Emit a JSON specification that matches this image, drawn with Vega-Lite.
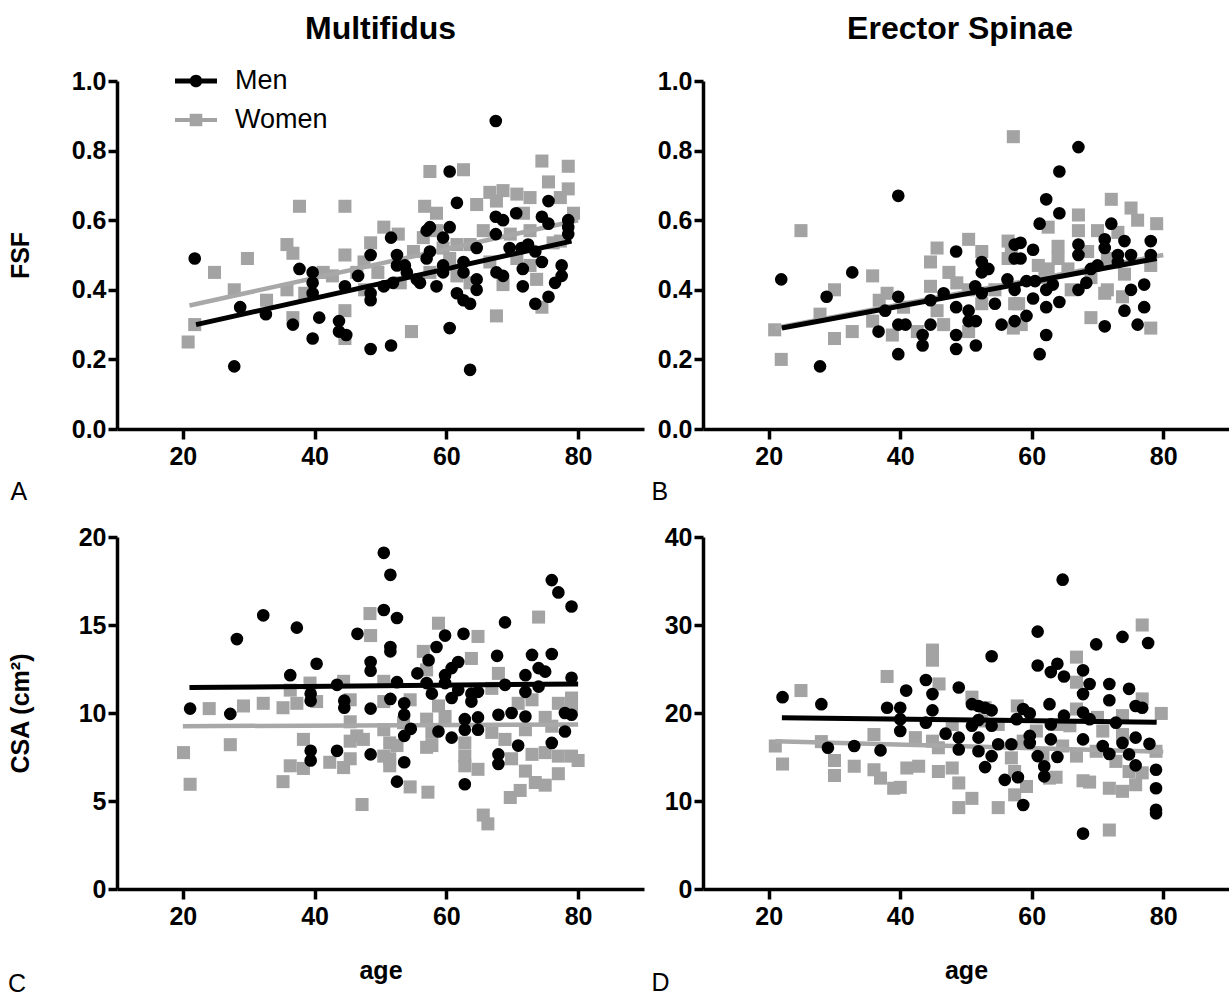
{
"$schema": "https://vega.github.io/schema/vega-lite/v6.json",
"background": "white",
"padding": {"left": 8, "top": 13, "right": 0, "bottom": 0},
"config": {
 "view": {"stroke": null},
 "axis": {"domainColor": "black", "domainWidth": 3.5, "tickColor": "black", "tickWidth": 3.5, "tickSize": 10, "grid": false,
  "labelFont": "Liberation Sans", "labelFontSize": 25, "labelFontWeight": "bold", "labelColor": "black", "labelPadding": 5, "labelOverlap": false, "labelBound": false, "labelFlush": false,
  "titleFont": "Liberation Sans", "titleFontSize": 25, "titleFontWeight": "bold", "titleColor": "black"},
 "axisY": {"labelPadding": 2, "tickSize": 9},
 "title": {"font": "Liberation Sans", "fontSize": 32, "fontWeight": "bold", "color": "black", "anchor": "middle", "frame": "group"}
},
"datasets": {
 "A_men": [{"age":21.8,"fsf":0.49},{"age":27.8,"fsf":0.18},{"age":28.7,"fsf":0.35},{"age":32.6,"fsf":0.33},{"age":36.7,"fsf":0.30},{"age":37.7,"fsf":0.46},{"age":39.7,"fsf":0.45},{"age":39.7,"fsf":0.42},{"age":39.7,"fsf":0.39},{"age":39.7,"fsf":0.26},{"age":40.7,"fsf":0.32},{"age":43.7,"fsf":0.31},{"age":43.7,"fsf":0.28},{"age":44.8,"fsf":0.27},{"age":44.6,"fsf":0.41},{"age":46.6,"fsf":0.44},{"age":48.5,"fsf":0.50},{"age":48.5,"fsf":0.39},{"age":48.5,"fsf":0.37},{"age":48.5,"fsf":0.23},{"age":51.6,"fsf":0.24},{"age":51.6,"fsf":0.55},{"age":50.5,"fsf":0.41},{"age":51.9,"fsf":0.42},{"age":52.5,"fsf":0.50},{"age":52.5,"fsf":0.47},{"age":53.7,"fsf":0.47},{"age":54,"fsf":0.45},{"age":55.5,"fsf":0.43},{"age":57,"fsf":0.57},{"age":57,"fsf":0.49},{"age":67.5,"fsf":0.885},{"age":60.5,"fsf":0.74},{"age":61.6,"fsf":0.65},{"age":57.5,"fsf":0.58},{"age":60.5,"fsf":0.58},{"age":59.5,"fsf":0.55},{"age":57.5,"fsf":0.51},{"age":59.5,"fsf":0.47},{"age":59.5,"fsf":0.45},{"age":58.5,"fsf":0.41},{"age":56,"fsf":0.42},{"age":61.6,"fsf":0.39},{"age":62.6,"fsf":0.37},{"age":63.6,"fsf":0.36},{"age":64.6,"fsf":0.43},{"age":64.6,"fsf":0.40},{"age":62.6,"fsf":0.48},{"age":62.6,"fsf":0.45},{"age":64.6,"fsf":0.52},{"age":60.5,"fsf":0.29},{"age":63.6,"fsf":0.17},{"age":67.5,"fsf":0.61},{"age":67.5,"fsf":0.56},{"age":68.6,"fsf":0.60},{"age":70.6,"fsf":0.62},{"age":67.6,"fsf":0.45},{"age":68.6,"fsf":0.44},{"age":69.6,"fsf":0.52},{"age":71.4,"fsf":0.52},{"age":72.4,"fsf":0.53},{"age":73.5,"fsf":0.51},{"age":74.5,"fsf":0.48},{"age":71.6,"fsf":0.46},{"age":71.6,"fsf":0.41},{"age":73.5,"fsf":0.36},{"age":75.5,"fsf":0.38},{"age":76.5,"fsf":0.42},{"age":77.5,"fsf":0.47},{"age":77.5,"fsf":0.44},{"age":74.5,"fsf":0.61},{"age":75.5,"fsf":0.59},{"age":75.5,"fsf":0.655},{"age":78.5,"fsf":0.60},{"age":78.5,"fsf":0.58},{"age":78.5,"fsf":0.56}],
 "A_women": [{"age":20.8,"fsf":0.25},{"age":21.8,"fsf":0.30},{"age":24.8,"fsf":0.45},{"age":27.8,"fsf":0.40},{"age":29.8,"fsf":0.49},{"age":32.7,"fsf":0.37},{"age":35.8,"fsf":0.53},{"age":36.7,"fsf":0.505},{"age":35.8,"fsf":0.40},{"age":37.7,"fsf":0.64},{"age":36.7,"fsf":0.32},{"age":38.5,"fsf":0.39},{"age":41.3,"fsf":0.45},{"age":42.7,"fsf":0.44},{"age":44.6,"fsf":0.64},{"age":44.6,"fsf":0.50},{"age":44.6,"fsf":0.34},{"age":44.6,"fsf":0.26},{"age":46.4,"fsf":0.45},{"age":47.5,"fsf":0.48},{"age":48.5,"fsf":0.535},{"age":47.6,"fsf":0.40},{"age":49.6,"fsf":0.45},{"age":50.5,"fsf":0.58},{"age":52.7,"fsf":0.56},{"age":54.7,"fsf":0.28},{"age":56.7,"fsf":0.64},{"age":57.5,"fsf":0.74},{"age":53,"fsf":0.42},{"age":55,"fsf":0.51},{"age":62.6,"fsf":0.745},{"age":74.5,"fsf":0.77},{"age":78.5,"fsf":0.755},{"age":75.5,"fsf":0.71},{"age":78.5,"fsf":0.69},{"age":79.3,"fsf":0.62},{"age":67.6,"fsf":0.325},{"age":74.5,"fsf":0.35},{"age":73.7,"fsf":0.43},{"age":58.5,"fsf":0.62},{"age":64.6,"fsf":0.645},{"age":66.6,"fsf":0.68},{"age":68.6,"fsf":0.685},{"age":70.7,"fsf":0.675},{"age":65.6,"fsf":0.57},{"age":63.6,"fsf":0.53},{"age":61.6,"fsf":0.53},{"age":59.5,"fsf":0.52},{"age":56.5,"fsf":0.55},{"age":57.5,"fsf":0.45},{"age":61.6,"fsf":0.44},{"age":63.6,"fsf":0.42},{"age":66.6,"fsf":0.48},{"age":70.7,"fsf":0.49},{"age":72.7,"fsf":0.57},{"age":71.7,"fsf":0.62},{"age":76.2,"fsf":0.535},{"age":77.3,"fsf":0.54},{"age":69.7,"fsf":0.56},{"age":67.6,"fsf":0.655},{"age":72.7,"fsf":0.665},{"age":77.3,"fsf":0.665},{"age":58.5,"fsf":0.57},{"age":60.5,"fsf":0.49},{"age":68.6,"fsf":0.415},{"age":72.7,"fsf":0.47}],
 "A_fit": [{"sex":"Men","age":22,"fsf":0.30},{"sex":"Men","age":79,"fsf":0.54},{"sex":"Women","age":21,"fsf":0.355},{"sex":"Women","age":80,"fsf":0.60}],
 "B_men": [{"age":21.9,"fsf":0.43},{"age":27.8,"fsf":0.18},{"age":28.8,"fsf":0.38},{"age":32.7,"fsf":0.45},{"age":39.7,"fsf":0.67},{"age":39.7,"fsf":0.38},{"age":39.7,"fsf":0.30},{"age":39.7,"fsf":0.215},{"age":40.8,"fsf":0.30},{"age":37.7,"fsf":0.34},{"age":36.7,"fsf":0.28},{"age":43.4,"fsf":0.27},{"age":43.4,"fsf":0.24},{"age":44.6,"fsf":0.37},{"age":44.6,"fsf":0.30},{"age":46.6,"fsf":0.39},{"age":48.5,"fsf":0.51},{"age":48.5,"fsf":0.35},{"age":48.5,"fsf":0.27},{"age":48.5,"fsf":0.23},{"age":50.4,"fsf":0.34},{"age":50.4,"fsf":0.31},{"age":51.5,"fsf":0.31},{"age":51.5,"fsf":0.24},{"age":52.4,"fsf":0.48},{"age":52.4,"fsf":0.45},{"age":53.4,"fsf":0.46},{"age":51.4,"fsf":0.41},{"age":52.4,"fsf":0.39},{"age":54.4,"fsf":0.36},{"age":55.4,"fsf":0.30},{"age":56.3,"fsf":0.43},{"age":57.4,"fsf":0.53},{"age":57.4,"fsf":0.49},{"age":57.4,"fsf":0.31},{"age":57.4,"fsf":0.40},{"age":67.1,"fsf":0.81},{"age":64.2,"fsf":0.74},{"age":62.2,"fsf":0.66},{"age":64.2,"fsf":0.62},{"age":61.2,"fsf":0.59},{"age":58.3,"fsf":0.535},{"age":60.2,"fsf":0.515},{"age":58.3,"fsf":0.49},{"age":59.2,"fsf":0.425},{"age":60.5,"fsf":0.425},{"age":60.2,"fsf":0.375},{"age":62.2,"fsf":0.40},{"age":63.2,"fsf":0.415},{"age":62.2,"fsf":0.35},{"age":64.2,"fsf":0.365},{"age":59.2,"fsf":0.325},{"age":62.2,"fsf":0.27},{"age":61.2,"fsf":0.215},{"age":67.1,"fsf":0.53},{"age":67.1,"fsf":0.50},{"age":67.1,"fsf":0.40},{"age":68.3,"fsf":0.42},{"age":69,"fsf":0.46},{"age":70,"fsf":0.47},{"age":71.1,"fsf":0.545},{"age":71.1,"fsf":0.52},{"age":71.1,"fsf":0.295},{"age":72.1,"fsf":0.59},{"age":73.1,"fsf":0.50},{"age":73.1,"fsf":0.48},{"age":74.1,"fsf":0.54},{"age":75.1,"fsf":0.50},{"age":75.1,"fsf":0.40},{"age":74.1,"fsf":0.34},{"age":76.1,"fsf":0.30},{"age":77.1,"fsf":0.415},{"age":77.1,"fsf":0.35},{"age":78.1,"fsf":0.54},{"age":78.1,"fsf":0.50}],
 "B_women": [{"age":24.9,"fsf":0.57},{"age":20.9,"fsf":0.285},{"age":21.9,"fsf":0.20},{"age":30,"fsf":0.40},{"age":27.8,"fsf":0.33},{"age":30,"fsf":0.26},{"age":32.7,"fsf":0.28},{"age":35.8,"fsf":0.44},{"age":35.8,"fsf":0.31},{"age":36.8,"fsf":0.37},{"age":38.8,"fsf":0.27},{"age":40.5,"fsf":0.35},{"age":38,"fsf":0.39},{"age":42.6,"fsf":0.28},{"age":44.6,"fsf":0.48},{"age":44.6,"fsf":0.41},{"age":45.6,"fsf":0.52},{"age":45.6,"fsf":0.34},{"age":47.4,"fsf":0.45},{"age":48.6,"fsf":0.42},{"age":46.6,"fsf":0.30},{"age":50.4,"fsf":0.545},{"age":50.4,"fsf":0.28},{"age":52.4,"fsf":0.51},{"age":50.4,"fsf":0.40},{"age":52.4,"fsf":0.36},{"age":54.4,"fsf":0.40},{"age":56.4,"fsf":0.54},{"age":56.4,"fsf":0.49},{"age":57.2,"fsf":0.84},{"age":57.4,"fsf":0.36},{"age":57.2,"fsf":0.29},{"age":62.5,"fsf":0.58},{"age":72.1,"fsf":0.66},{"age":75.1,"fsf":0.635},{"age":76.1,"fsf":0.60},{"age":79,"fsf":0.59},{"age":67.1,"fsf":0.615},{"age":67.1,"fsf":0.57},{"age":70,"fsf":0.57},{"age":73.1,"fsf":0.565},{"age":64,"fsf":0.525},{"age":64,"fsf":0.49},{"age":62.5,"fsf":0.46},{"age":65.5,"fsf":0.46},{"age":68.5,"fsf":0.51},{"age":71.5,"fsf":0.49},{"age":78.1,"fsf":0.47},{"age":56.9,"fsf":0.51},{"age":61,"fsf":0.47},{"age":66,"fsf":0.40},{"age":71.5,"fsf":0.40},{"age":73.8,"fsf":0.38},{"age":74.1,"fsf":0.445},{"age":71.1,"fsf":0.39},{"age":58,"fsf":0.36},{"age":58.4,"fsf":0.30},{"age":62,"fsf":0.435},{"age":69,"fsf":0.32},{"age":78.1,"fsf":0.29},{"age":69,"fsf":0.435}],
 "B_fit": [{"sex":"Men","age":22,"fsf":0.29},{"sex":"Men","age":79,"fsf":0.49},{"sex":"Women","age":21,"fsf":0.29},{"sex":"Women","age":80,"fsf":0.50}],
 "C_men": [{"age":21.1,"csa":10.25},{"age":27.2,"csa":9.95},{"age":28.2,"csa":14.2},{"age":32.2,"csa":15.55},{"age":37.3,"csa":14.85},{"age":36.3,"csa":12.15},{"age":40.3,"csa":12.8},{"age":39.4,"csa":11.1},{"age":39.4,"csa":10.7},{"age":39.4,"csa":7.85},{"age":39.4,"csa":7.3},{"age":43.4,"csa":11.6},{"age":43.4,"csa":7.85},{"age":44.5,"csa":10.7},{"age":44.5,"csa":10.3},{"age":46.5,"csa":14.5},{"age":48.5,"csa":12.9},{"age":48.5,"csa":12.4},{"age":48.5,"csa":10.25},{"age":48.5,"csa":7.65},{"age":50.5,"csa":19.1},{"age":51.5,"csa":17.85},{"age":50.5,"csa":15.85},{"age":52.5,"csa":15.4},{"age":51.5,"csa":13.75},{"age":51.5,"csa":13.5},{"age":52.5,"csa":11.75},{"age":51.5,"csa":10.8},{"age":53.6,"csa":10.55},{"age":53.6,"csa":9.9},{"age":54.6,"csa":9.1},{"age":53.6,"csa":8.7},{"age":53.6,"csa":7.2},{"age":52.5,"csa":6.1},{"age":55.6,"csa":12.25},{"age":57,"csa":11.7},{"age":57.3,"csa":13.0},{"age":76,"csa":17.55},{"age":77,"csa":16.85},{"age":79,"csa":16.05},{"age":68.9,"csa":15.15},{"age":62.6,"csa":14.5},{"age":59.8,"csa":14.4},{"age":58.5,"csa":13.75},{"age":61.8,"csa":12.9},{"age":60.8,"csa":12.55},{"age":59.8,"csa":12.15},{"age":59.8,"csa":11.7},{"age":57.8,"csa":11.1},{"age":60.8,"csa":10.85},{"age":61.8,"csa":11.3},{"age":63.8,"csa":11.1},{"age":64.8,"csa":11.2},{"age":63.8,"csa":10.65},{"age":64.8,"csa":9.75},{"age":62.8,"csa":9.65},{"age":62.8,"csa":9.05},{"age":64.8,"csa":9.05},{"age":58.8,"csa":8.95},{"age":60.8,"csa":8.6},{"age":62.8,"csa":5.95},{"age":67.7,"csa":13.25},{"age":68.9,"csa":11.6},{"age":67.9,"csa":9.9},{"age":69.9,"csa":10.0},{"age":72,"csa":9.8},{"age":67.9,"csa":7.65},{"age":67.9,"csa":7.1},{"age":70.9,"csa":8.15},{"age":72,"csa":12.15},{"age":72,"csa":11.2},{"age":73,"csa":13.3},{"age":74,"csa":12.55},{"age":75,"csa":12.35},{"age":74,"csa":11.5},{"age":76,"csa":13.35},{"age":76,"csa":8.3},{"age":78,"csa":10.0},{"age":79,"csa":9.9},{"age":78,"csa":8.95},{"age":79,"csa":12.0}],
 "C_women": [{"age":20.1,"csa":7.75},{"age":21.1,"csa":5.95},{"age":24,"csa":10.25},{"age":27.2,"csa":8.2},{"age":29.2,"csa":10.4},{"age":32.2,"csa":10.55},{"age":35.2,"csa":10.3},{"age":35.2,"csa":6.1},{"age":36.3,"csa":11.3},{"age":37.3,"csa":10.55},{"age":36.3,"csa":7.0},{"age":38.3,"csa":8.5},{"age":38.3,"csa":6.85},{"age":39.3,"csa":11.7},{"age":40.3,"csa":10.65},{"age":42.3,"csa":7.2},{"age":44.4,"csa":11.8},{"age":45.4,"csa":10.75},{"age":45.4,"csa":9.5},{"age":44.4,"csa":6.9},{"age":45.4,"csa":8.4},{"age":46.4,"csa":8.7},{"age":45.4,"csa":7.4},{"age":47.4,"csa":8.5},{"age":48.4,"csa":15.65},{"age":48.5,"csa":14.4},{"age":50.5,"csa":11.8},{"age":50.5,"csa":10.65},{"age":50.5,"csa":9.05},{"age":51.4,"csa":8.3},{"age":51.4,"csa":7.4},{"age":50.5,"csa":7.55},{"age":51.4,"csa":7.0},{"age":52.5,"csa":8.15},{"age":53.5,"csa":9.45},{"age":54.5,"csa":10.75},{"age":54.5,"csa":5.8},{"age":56.5,"csa":13.5},{"age":57,"csa":8.05},{"age":57,"csa":9.65},{"age":58.8,"csa":15.1},{"age":64.8,"csa":14.35},{"age":63.8,"csa":13.1},{"age":74,"csa":15.45},{"age":67.9,"csa":12.25},{"age":57,"csa":12.45},{"age":66.9,"csa":11.4},{"age":70.9,"csa":10.55},{"age":73,"csa":10.75},{"age":79,"csa":10.85},{"age":77,"csa":10.55},{"age":75,"csa":9.75},{"age":76,"csa":9.25},{"age":58.8,"csa":10.4},{"age":59.8,"csa":9.8},{"age":57.8,"csa":8.9},{"age":57.8,"csa":8.15},{"age":62.8,"csa":8.3},{"age":62.8,"csa":7.55},{"age":62.8,"csa":7.0},{"age":64.8,"csa":6.8},{"age":66.9,"csa":8.9},{"age":68.9,"csa":8.5},{"age":69.9,"csa":7.4},{"age":72,"csa":6.7},{"age":73.5,"csa":6.05},{"age":73,"csa":7.65},{"age":75,"csa":7.75},{"age":77,"csa":7.55},{"age":79,"csa":7.55},{"age":80,"csa":7.3},{"age":77,"csa":6.55},{"age":72,"csa":9.05},{"age":79,"csa":10.2},{"age":47.2,"csa":4.8},{"age":65.6,"csa":4.2},{"age":66.3,"csa":3.7},{"age":57.2,"csa":5.5},{"age":69.7,"csa":5.2},{"age":71.2,"csa":5.6},{"age":75,"csa":5.9}],
 "C_fit": [{"sex":"Men","age":21,"csa":11.45},{"sex":"Men","age":80,"csa":11.65},{"sex":"Women","age":20,"csa":9.25},{"sex":"Women","age":80,"csa":9.35}],
 "D_men": [{"age":22.1,"csa":21.8},{"age":28,"csa":21.0},{"age":29,"csa":16.05},{"age":33,"csa":16.25},{"age":37,"csa":15.75},{"age":38,"csa":20.6},{"age":40,"csa":20.6},{"age":40,"csa":19.3},{"age":40,"csa":17.95},{"age":40.9,"csa":22.55},{"age":43.9,"csa":23.75},{"age":44.9,"csa":22.15},{"age":44.9,"csa":20.3},{"age":43.9,"csa":18.9},{"age":46.9,"csa":17.65},{"age":48.9,"csa":22.9},{"age":48.9,"csa":17.2},{"age":48.9,"csa":15.85},{"age":50.9,"csa":21.0},{"age":51.9,"csa":20.8},{"age":52.9,"csa":20.6},{"age":53.9,"csa":20.3},{"age":53.9,"csa":26.45},{"age":51.9,"csa":19.2},{"age":50.9,"csa":18.55},{"age":53.9,"csa":18.55},{"age":51.9,"csa":17.2},{"age":51.9,"csa":15.65},{"age":53.9,"csa":15.1},{"age":52.9,"csa":13.85},{"age":54.9,"csa":16.45},{"age":55.9,"csa":12.4},{"age":56.9,"csa":16.45},{"age":57.7,"csa":19.3},{"age":64.7,"csa":35.15},{"age":60.9,"csa":29.25},{"age":60.9,"csa":25.4},{"age":63.9,"csa":25.6},{"age":62.9,"csa":24.65},{"age":64.9,"csa":24.15},{"age":69.8,"csa":27.8},{"age":73.8,"csa":28.65},{"age":77.7,"csa":27.95},{"age":67.8,"csa":24.85},{"age":68.8,"csa":23.3},{"age":67.8,"csa":22.15},{"age":71.8,"csa":23.3},{"age":71.8,"csa":21.45},{"age":74.8,"csa":22.75},{"age":75.8,"csa":20.8},{"age":76.8,"csa":20.6},{"age":72.8,"csa":18.9},{"age":75.8,"csa":17.2},{"age":77.9,"csa":16.5},{"age":73.8,"csa":16.6},{"age":70.8,"csa":16.25},{"age":71.8,"csa":15.35},{"age":74.8,"csa":15.3},{"age":75.8,"csa":14.05},{"age":78.9,"csa":13.55},{"age":78.9,"csa":11.45},{"age":78.9,"csa":9.0},{"age":78.9,"csa":8.6},{"age":67.8,"csa":6.3},{"age":58.7,"csa":20.45},{"age":59.7,"csa":19.95},{"age":62.7,"csa":21.0},{"age":62.9,"csa":18.7},{"age":64.9,"csa":19.7},{"age":67.8,"csa":20.05},{"age":68.8,"csa":19.3},{"age":67.8,"csa":17.0},{"age":62.9,"csa":17.0},{"age":59.7,"csa":17.4},{"age":59.7,"csa":16.6},{"age":60.9,"csa":15.1},{"age":63.9,"csa":15.0},{"age":61.9,"csa":13.95},{"age":61.9,"csa":12.8},{"age":57.9,"csa":12.7},{"age":58.7,"csa":9.55}],
 "D_women": [{"age":24.9,"csa":22.55},{"age":21,"csa":16.25},{"age":22.1,"csa":14.2},{"age":28,"csa":16.75},{"age":30,"csa":14.6},{"age":30,"csa":12.9},{"age":33,"csa":13.95},{"age":36,"csa":17.55},{"age":36,"csa":13.55},{"age":37,"csa":12.6},{"age":38,"csa":24.15},{"age":39,"csa":11.45},{"age":40,"csa":11.55},{"age":41,"csa":13.75},{"age":42.8,"csa":13.95},{"age":44.9,"csa":27.15},{"age":44.9,"csa":26.0},{"age":45.9,"csa":23.3},{"age":44.9,"csa":16.8},{"age":45.8,"csa":13.35},{"age":47.9,"csa":13.75},{"age":48.9,"csa":12.05},{"age":50.9,"csa":21.8},{"age":50.9,"csa":10.3},{"age":48.9,"csa":9.25},{"age":52.9,"csa":20.6},{"age":54.9,"csa":9.25},{"age":54.9,"csa":18.7},{"age":56.9,"csa":14.9},{"age":47.9,"csa":18.7},{"age":45.8,"csa":16.05},{"age":52.4,"csa":19.1},{"age":42.3,"csa":17.2},{"age":76.8,"csa":30.0},{"age":66.8,"csa":26.35},{"age":66.8,"csa":23.5},{"age":76.8,"csa":21.6},{"age":79.7,"csa":19.95},{"age":57.8,"csa":20.8},{"age":66.8,"csa":20.45},{"age":70,"csa":19.5},{"age":73.8,"csa":19.7},{"age":65.8,"csa":18.55},{"age":70.8,"csa":17.95},{"age":73.8,"csa":17.55},{"age":64.7,"csa":16.25},{"age":66.8,"csa":15.1},{"age":69.8,"csa":15.65},{"age":72.8,"csa":14.5},{"age":74.8,"csa":13.35},{"age":76.8,"csa":13.2},{"age":78.9,"csa":15.65},{"age":67.8,"csa":12.3},{"age":68.8,"csa":12.15},{"age":71.8,"csa":11.45},{"age":73.8,"csa":11.1},{"age":75.8,"csa":11.85},{"age":71.8,"csa":6.7},{"age":62.7,"csa":12.6},{"age":63.7,"csa":12.7},{"age":61.7,"csa":15.3},{"age":60.7,"csa":17.95},{"age":58.7,"csa":16.8},{"age":57.4,"csa":13.35},{"age":57.4,"csa":10.7},{"age":59.2,"csa":11.65},{"age":64,"csa":18.7}],
 "D_fit": [{"sex":"Men","age":22,"csa":19.45},{"sex":"Men","age":79,"csa":18.95},{"sex":"Women","age":21,"csa":16.8},{"sex":"Women","age":80,"csa":15.6}]
},
"vconcat": [
 {"hconcat": [
  {"width": 527, "height": 348,
   "title": {"text": "Multifidus", "offset": 23},
   "layer": [
    {"data": {"name": "A_women"}, "mark": {"type": "square", "size": 170, "opacity": 1},
     "encoding": {
      "x": {"field": "age", "type": "quantitative", "scale": {"domain": [10, 90]}, "axis": {"values": [20, 40, 60, 80], "title": "A", "titleX": -107, "titleY": 70, "titleAlign": "left", "titleBaseline": "alphabetic", "titleFontWeight": "normal"}},
      "y": {"field": "fsf", "type": "quantitative", "scale": {"domain": [0, 1]}, "axis": {"values": [0, 0.2, 0.4, 0.6, 0.8, 1.0], "format": ".1f", "title": "FSF", "titleX": -84}},
      "color": {"datum": "Women", "scale": {"domain": ["Men", "Women"], "range": ["#000000", "#a3a3a3"]},
       "legend": {"orient": "none", "legendX": 58, "legendY": -21, "title": null, "labelFont": "Liberation Sans", "labelFontSize": 27, "labelFontWeight": "normal", "labelColor": "black", "symbolSize": 1764, "symbolStrokeWidth": 0, "symbolOpacity": 1, "labelOffset": 18, "rowPadding": 5, "padding": 0,
        "encode": {"symbols": {"update": {"shape": {"signal": "datum.value === 'Men' ? 'M-1,-0.12L1,-0.12L1,0.12L-1,0.12ZM-0.3,0A0.3,0.3,0,1,1,0.3,0A0.3,0.3,0,1,1,-0.3,0Z' : 'M-1,-0.09L1,-0.09L1,0.09L-1,0.09ZM-0.3,-0.3L0.3,-0.3L0.3,0.3L-0.3,0.3Z'"}}}}}}
     }},
    {"data": {"name": "A_fit"}, "transform": [{"filter": "datum.sex === 'Women'"}], "mark": {"type": "line", "color": "#a8a8a8", "strokeWidth": 4.5},
     "encoding": {"x": {"field": "age", "type": "quantitative"}, "y": {"field": "fsf", "type": "quantitative"}}},
    {"data": {"name": "A_men"}, "mark": {"type": "circle", "size": 160, "opacity": 1},
     "encoding": {"x": {"field": "age", "type": "quantitative"}, "y": {"field": "fsf", "type": "quantitative"}, "color": {"datum": "Men"}}},
    {"data": {"name": "A_fit"}, "transform": [{"filter": "datum.sex === 'Men'"}], "mark": {"type": "line", "color": "#000000", "strokeWidth": 5},
     "encoding": {"x": {"field": "age", "type": "quantitative"}, "y": {"field": "fsf", "type": "quantitative"}}}
   ]},
  {"width": 526, "height": 348,
   "title": {"text": "Erector Spinae", "offset": 23, "dx": -6},
   "layer": [
    {"data": {"name": "B_women"}, "mark": {"type": "square", "size": 170, "opacity": 1, "color": "#a3a3a3"},
     "encoding": {
      "x": {"field": "age", "type": "quantitative", "scale": {"domain": [10, 90]}, "axis": {"values": [20, 40, 60, 80], "title": "B", "titleX": -52, "titleY": 70, "titleAlign": "left", "titleBaseline": "alphabetic", "titleFontWeight": "normal"}},
      "y": {"field": "fsf", "type": "quantitative", "scale": {"domain": [0, 1]}, "axis": {"values": [0, 0.2, 0.4, 0.6, 0.8, 1.0], "format": ".1f", "title": null}}
     }},
    {"data": {"name": "B_fit"}, "transform": [{"filter": "datum.sex === 'Women'"}], "mark": {"type": "line", "color": "#a8a8a8", "strokeWidth": 4.5},
     "encoding": {"x": {"field": "age", "type": "quantitative"}, "y": {"field": "fsf", "type": "quantitative"}}},
    {"data": {"name": "B_men"}, "mark": {"type": "circle", "size": 160, "opacity": 1, "color": "#000000"},
     "encoding": {"x": {"field": "age", "type": "quantitative"}, "y": {"field": "fsf", "type": "quantitative"}}},
    {"data": {"name": "B_fit"}, "transform": [{"filter": "datum.sex === 'Men'"}], "mark": {"type": "line", "color": "#000000", "strokeWidth": 5},
     "encoding": {"x": {"field": "age", "type": "quantitative"}, "y": {"field": "fsf", "type": "quantitative"}}}
   ]}
 ], "spacing": 7},
 {"hconcat": [
  {"width": 527, "height": 352,
   "title": {"text": "C", "orient": "bottom", "anchor": "start", "frame": "bounds", "fontSize": 25, "fontWeight": "normal", "offset": -11},
   "layer": [
    {"data": {"name": "C_women"}, "mark": {"type": "square", "size": 170, "opacity": 1, "color": "#a3a3a3"},
     "encoding": {
      "x": {"field": "age", "type": "quantitative", "scale": {"domain": [10, 90]}, "axis": {"values": [20, 40, 60, 80], "title": "age", "titleY": 89, "titleBaseline": "alphabetic"}},
      "y": {"field": "csa", "type": "quantitative", "scale": {"domain": [0, 20]}, "axis": {"values": [0, 5, 10, 15, 20], "title": "CSA (cm²)", "titleX": -84}}
     }},
    {"data": {"name": "C_fit"}, "transform": [{"filter": "datum.sex === 'Women'"}], "mark": {"type": "line", "color": "#a8a8a8", "strokeWidth": 4.5},
     "encoding": {"x": {"field": "age", "type": "quantitative"}, "y": {"field": "csa", "type": "quantitative"}}},
    {"data": {"name": "C_men"}, "mark": {"type": "circle", "size": 160, "opacity": 1, "color": "#000000"},
     "encoding": {"x": {"field": "age", "type": "quantitative"}, "y": {"field": "csa", "type": "quantitative"}}},
    {"data": {"name": "C_fit"}, "transform": [{"filter": "datum.sex === 'Men'"}], "mark": {"type": "line", "color": "#000000", "strokeWidth": 5},
     "encoding": {"x": {"field": "age", "type": "quantitative"}, "y": {"field": "csa", "type": "quantitative"}}}
   ]},
  {"width": 526, "height": 352,
   "layer": [
    {"data": {"name": "D_women"}, "mark": {"type": "square", "size": 170, "opacity": 1, "color": "#a3a3a3"},
     "encoding": {
      "x": {"field": "age", "type": "quantitative", "scale": {"domain": [10, 90]}, "axis": {"values": [20, 40, 60, 80], "title": "age", "titleY": 89, "titleBaseline": "alphabetic"}},
      "y": {"field": "csa", "type": "quantitative", "scale": {"domain": [0, 40]}, "axis": {"values": [0, 10, 20, 30, 40], "title": "D", "titleAngle": 0, "titleX": -52, "titleY": 453, "titleAlign": "left", "titleBaseline": "alphabetic", "titleFontWeight": "normal"}}
     }},
    {"data": {"name": "D_fit"}, "transform": [{"filter": "datum.sex === 'Women'"}], "mark": {"type": "line", "color": "#a8a8a8", "strokeWidth": 4.5},
     "encoding": {"x": {"field": "age", "type": "quantitative"}, "y": {"field": "csa", "type": "quantitative"}}},
    {"data": {"name": "D_men"}, "mark": {"type": "circle", "size": 160, "opacity": 1, "color": "#000000"},
     "encoding": {"x": {"field": "age", "type": "quantitative"}, "y": {"field": "csa", "type": "quantitative"}}},
    {"data": {"name": "D_fit"}, "transform": [{"filter": "datum.sex === 'Men'"}], "mark": {"type": "line", "color": "#000000", "strokeWidth": 5},
     "encoding": {"x": {"field": "age", "type": "quantitative"}, "y": {"field": "csa", "type": "quantitative"}}}
   ]}
 ], "spacing": 7}
],
"spacing": 21
}
